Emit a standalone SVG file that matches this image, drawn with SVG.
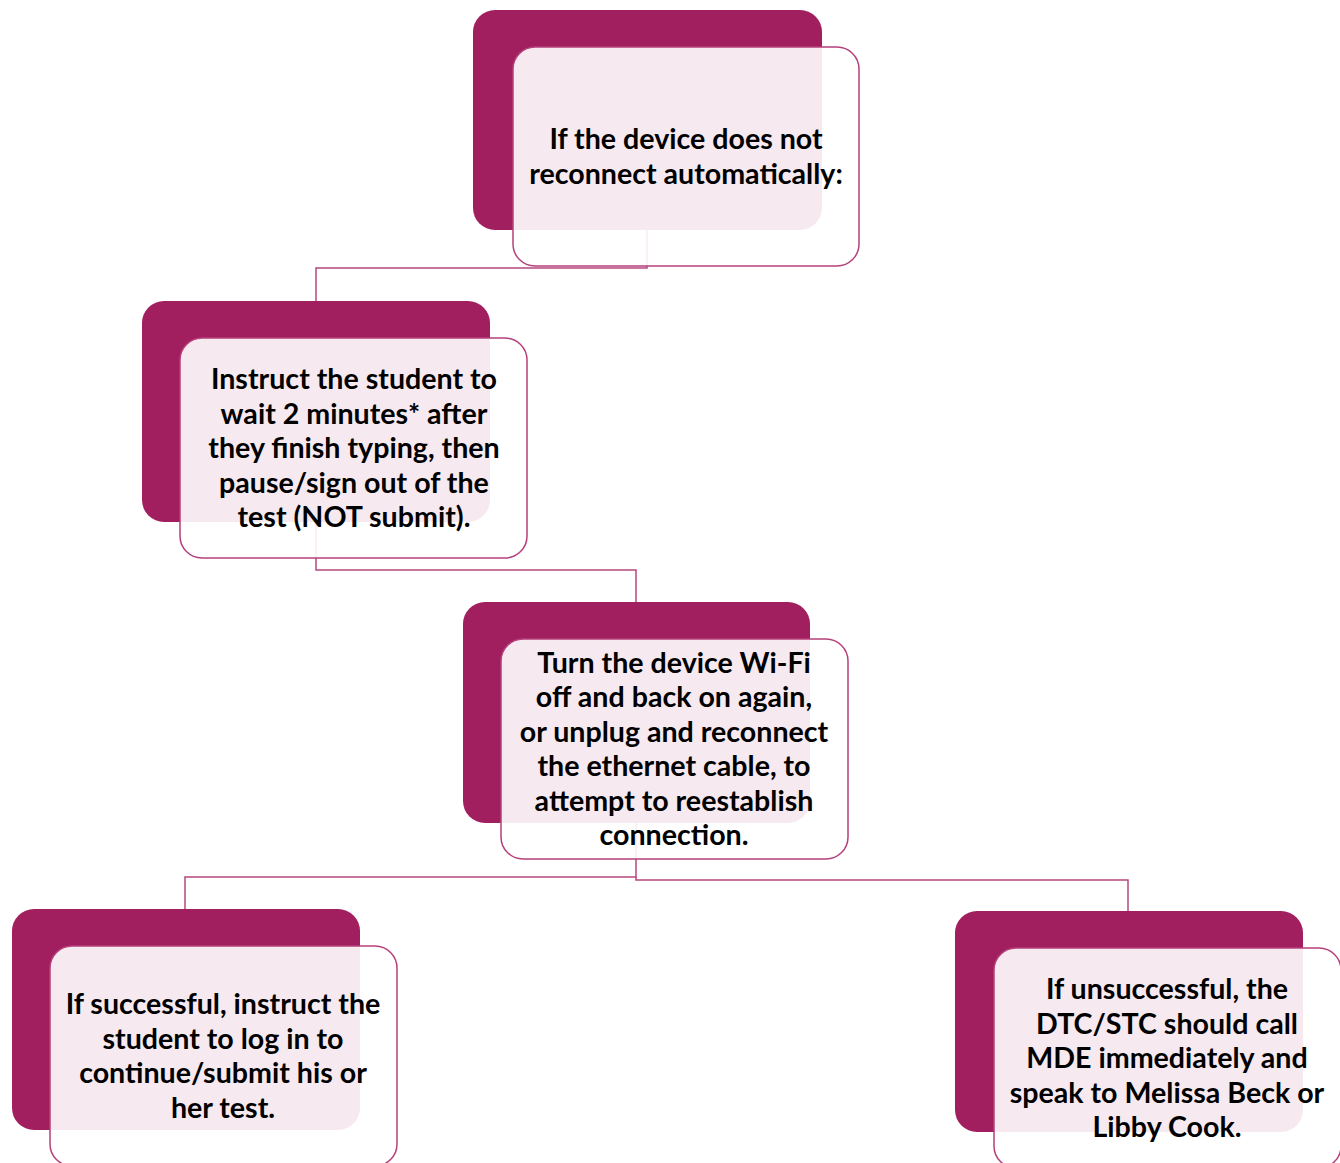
<svg xmlns="http://www.w3.org/2000/svg" width="1340" height="1163" viewBox="0 0 1340 1163">
<defs>
<style>
.back{fill:#A11F5F;}
.front{fill:#FFFFFF;fill-opacity:0.9;stroke:#B5407A;stroke-width:1.5;}
.conn{fill:none;stroke:#B5487E;stroke-width:1.5;}
text{font-family:"Lato","Liberation Sans",sans-serif;font-weight:bold;font-size:28.6px;fill:#000;text-anchor:middle;}
</style>
</defs>
<rect width="1340" height="1163" fill="#FFFFFF"/>
<g id="connectors">
<polyline class="conn" points="647,230 647,268 316,268 316,301"/>
<polyline class="conn" points="316,522 316,570 636,570 636,602"/>
<polyline class="conn" points="636,823 636,877 185,877 185,909"/>
<polyline class="conn" points="636,877 636,880 1128,880 1128,911"/>
</g>
<g id="node1">
<rect class="back" x="473" y="10" width="349" height="220" rx="22"/>
<rect class="front" x="513" y="47" width="346" height="219" rx="22"/>
<text x="686" y="149">If the device does not</text>
<text x="686" y="184">reconnect automatically:</text>
</g>
<g id="node2">
<rect class="back" x="142" y="301" width="348" height="221" rx="22"/>
<rect class="front" x="180" y="338" width="347" height="220" rx="22"/>
<text x="354" y="389">Instruct the student to</text>
<text x="354" y="424">wait 2 minutes* after</text>
<text x="354" y="458">they finish typing, then</text>
<text x="354" y="493">pause/sign out of the</text>
<text x="354" y="527">test (NOT submit).</text>
</g>
<g id="node3">
<rect class="back" x="463" y="602" width="347" height="221" rx="22"/>
<rect class="front" x="501" y="639" width="347" height="220" rx="22"/>
<text x="674" y="673">Turn the device Wi-Fi</text>
<text x="674" y="707">off and back on again,</text>
<text x="674" y="742">or unplug and reconnect</text>
<text x="674" y="776">the ethernet cable, to</text>
<text x="674" y="811">attempt to reestablish</text>
<text x="674" y="845">connection.</text>
</g>
<g id="node4">
<rect class="back" x="12" y="909" width="348" height="221" rx="22"/>
<rect class="front" x="50" y="946" width="347" height="220" rx="22"/>
<text x="223" y="1014">If successful, instruct the</text>
<text x="223" y="1049">student to log in to</text>
<text x="223" y="1083">continue/submit his or</text>
<text x="223" y="1118">her test.</text>
</g>
<g id="node5">
<rect class="back" x="955" y="911" width="348" height="221" rx="22"/>
<rect class="front" x="994" y="948" width="347" height="220" rx="22"/>
<text x="1167" y="999">If unsuccessful, the</text>
<text x="1167" y="1034">DTC/STC should call</text>
<text x="1167" y="1068">MDE immediately and</text>
<text x="1167" y="1103">speak to Melissa Beck or</text>
<text x="1167" y="1137">Libby Cook.</text>
</g>
</svg>
